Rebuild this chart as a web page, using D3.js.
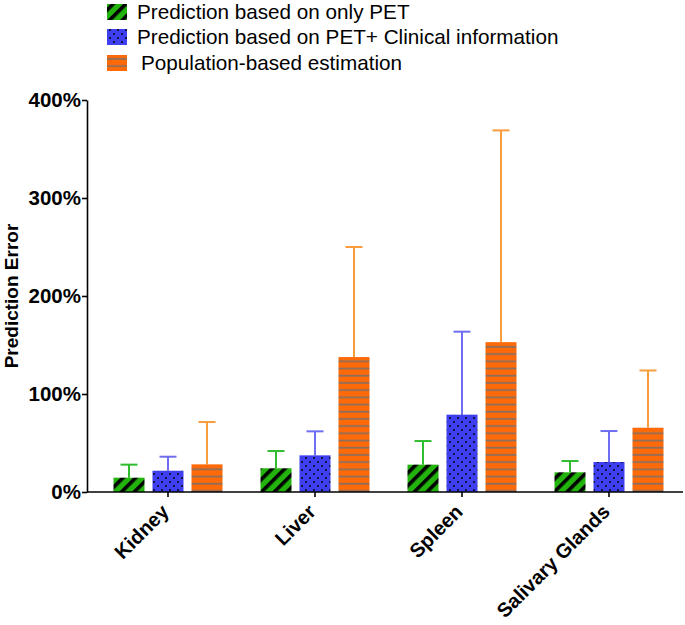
<!DOCTYPE html>
<html>
<head>
<meta charset="utf-8">
<script src="https://cdn.jsdelivr.net/npm/d3@7"></script>
<style>
  body { margin: 0; background: #fff; }
  svg { display: block; }
</style>
</head>
<body>
<svg id="chart" width="685" height="625"></svg>
<script>
const categories = ["Kidney", "Liver", "Spleen", "Salivary Glands"];
const seriesNames = ["Prediction based on only PET", "Prediction based on PET+ Clinical information", "Population-based estimation"];
const onlyPET = [14.6, 24.2, 27.9, 20.1];
const onlyPETErr = [13.3, 17.6, 24.1, 11.5];
const petClinical = [21.7, 37.4, 78.9, 30.6];
const petClinicalErr = [14.3, 24.5, 84.7, 31.6];
const population = [28.2, 137.7, 152.9, 65.6];
const populationErr = [43.2, 112.3, 216.1, 58.4];
const yTicks = [0, 100, 200, 300, 400];

const svg = d3.select("#chart");
const defs = svg.append("defs");

// patterns
const pG = defs.append("pattern").attr("id", "pGreen").attr("patternUnits", "userSpaceOnUse")
  .attr("width", 9).attr("height", 9).attr("patternTransform", "rotate(45)");
pG.append("rect").attr("width", 9).attr("height", 9).attr("fill", "#22b30c");
pG.append("rect").attr("x", 0).attr("width", 3.6).attr("height", 9).attr("fill", "#000");

const pB = defs.append("pattern").attr("id", "pBlue").attr("patternUnits", "userSpaceOnUse")
  .attr("width", 8).attr("height", 8);
pB.append("rect").attr("width", 8).attr("height", 8).attr("fill", "#3f3ff2");
pB.append("circle").attr("cx", 2).attr("cy", 2).attr("r", 0.95).attr("fill", "#000");
pB.append("circle").attr("cx", 6).attr("cy", 6).attr("r", 0.95).attr("fill", "#000");

const pO = defs.append("pattern").attr("id", "pOrange").attr("patternUnits", "userSpaceOnUse")
  .attr("width", 10).attr("height", 7.2).attr("y", 492);
pO.append("rect").attr("width", 10).attr("height", 7.2).attr("fill", "#ff6a08");
pO.append("rect").attr("y", 5.2).attr("width", 10).attr("height", 1.8).attr("fill", "#8d6e5c");

const fills = ["url(#pGreen)", "url(#pBlue)", "url(#pOrange)"];
const errColors = ["#2fbd2f", "#6e6ef2", "#f89c3e"];

const x0 = 87, x1 = 683, yBottom = 492, yTop = 100;
const x = d3.scaleBand().domain(categories).range([94.5, 682.5]).paddingInner(0).paddingOuter(0);
const xs = d3.scaleBand().domain([0, 1, 2]).range([-54.5, 54.5]).paddingInner(0.205).paddingOuter(0);
const y = d3.scaleLinear().domain([0, 400]).range([yBottom, yTop]);

const means = [onlyPET, petClinical, population];
const errs = [onlyPETErr, petClinicalErr, populationErr];

const rows = [];
categories.forEach((c, i) => {
  for (let s = 0; s < 3; s++) rows.push({ c, s, v: means[s][i], e: errs[s][i] });
});

const center = c => x(c) + x.bandwidth() / 2;

// error bars
const eg = svg.append("g");
rows.forEach(d => {
  const cx = center(d.c) + xs(d.s) + xs.bandwidth() / 2;
  eg.append("line").attr("x1", cx).attr("x2", cx).attr("y1", y(d.v)).attr("y2", y(d.v + d.e))
    .attr("stroke", errColors[d.s]).attr("stroke-width", 2);
  eg.append("line").attr("x1", cx - 8.5).attr("x2", cx + 8.5).attr("y1", y(d.v + d.e)).attr("y2", y(d.v + d.e))
    .attr("stroke", errColors[d.s]).attr("stroke-width", 2);
});

// bars
svg.append("g").selectAll("rect").data(rows).join("rect")
  .attr("x", d => center(d.c) + xs(d.s))
  .attr("width", xs.bandwidth())
  .attr("y", d => y(d.v))
  .attr("height", d => yBottom - y(d.v))
  .attr("fill", d => fills[d.s]);

const FONT = "Liberation Sans, Arial, sans-serif";

// y axis
const yAxis = d3.axisLeft(y).tickValues(yTicks).tickFormat(d => d + "%").tickSize(5).tickSizeOuter(0);
const gy = svg.append("g").attr("transform", `translate(${x0},0)`).call(yAxis);
gy.select(".domain").attr("stroke", "#000").attr("stroke-width", 1.6);
gy.selectAll(".tick line").attr("stroke", "#000").attr("stroke-width", 1.6);
gy.selectAll(".tick text").attr("font-family", FONT)
  .attr("font-weight", "bold").attr("font-size", 20.5).attr("fill", "#000").attr("x", -6);

// x axis
const gx = svg.append("g").attr("transform", `translate(0,${yBottom})`);
gx.append("line").attr("x1", x0).attr("x2", x1).attr("y1", 0).attr("y2", 0)
  .attr("stroke", "#000").attr("stroke-width", 1.6);
const xAxis = d3.axisBottom(x).tickSize(5).tickSizeOuter(0);
const gxa = gx.append("g").call(xAxis);
gxa.select(".domain").remove();
gxa.selectAll(".tick line").attr("stroke", "#000").attr("stroke-width", 1.6);
gxa.selectAll(".tick text")
  .attr("font-family", FONT)
  .attr("font-weight", "bold").attr("font-size", 20).attr("fill", "#000")
  .attr("text-anchor", "end").attr("dy", null)
  .attr("transform", "translate(2,21) rotate(-45)")
  .attr("x", 0).attr("y", 0);

// y label
svg.append("text")
  .attr("transform", `translate(18,${(yTop + yBottom) / 2}) rotate(-90)`)
  .attr("text-anchor", "middle")
  .attr("font-family", FONT)
  .attr("font-weight", "bold").attr("font-size", 19).attr("fill", "#000")
  .text("Prediction Error");

// legend
const lg = svg.append("g");
const legY = [12, 37, 63];
seriesNames.forEach((n, i) => {
  lg.append("rect").attr("x", 107).attr("y", legY[i] - 8).attr("width", 20).attr("height", 16)
    .attr("fill", fills[i]);
  lg.append("text").attr("x", i === 2 ? 141 : 137).attr("y", legY[i] + 7)
    .attr("font-family", FONT)
    .attr("font-size", 20.7).attr("fill", "#000").text(n);
});
</script>
</body>
</html>
